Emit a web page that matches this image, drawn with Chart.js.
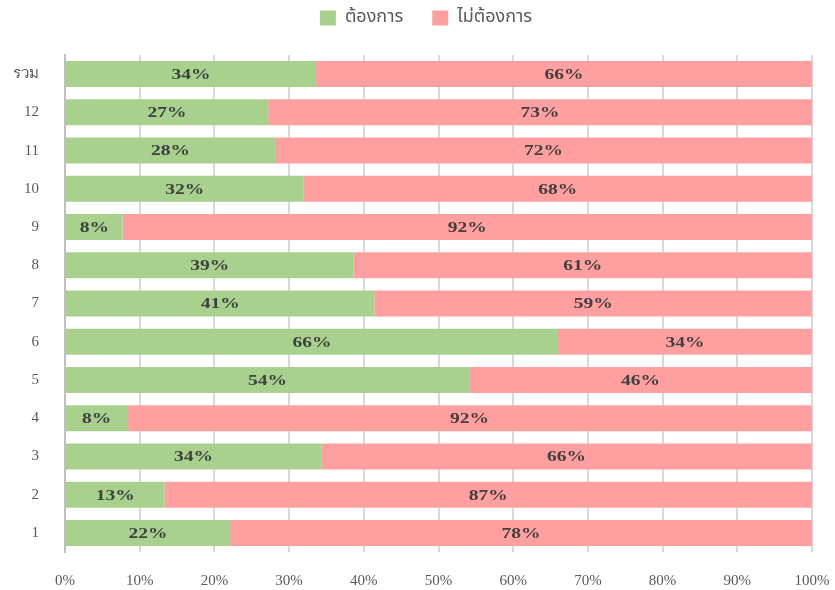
<!DOCTYPE html>
<html>
<head>
<meta charset="utf-8">
<script src="https://cdn.jsdelivr.net/npm/chart.js@4"></script>
<style>
  html, body { margin: 0; padding: 0; background: #fff; }
  canvas { display: block; }
</style>
</head>
<body>
<canvas id="chart" width="835" height="590"></canvas>
<script>
const categories = ['รวม', '12', '11', '10', '9', '8', '7', '6', '5', '4', '3', '2', '1'];
const wantValues = [33.6, 27.2, 28.1, 31.9, 7.7, 38.6, 41.4, 66.0, 54.1, 8.3, 34.3, 13.3, 22.1];
const notWantValues = [66.4, 72.8, 71.9, 68.1, 92.3, 61.4, 58.6, 34.0, 45.9, 91.7, 65.7, 86.7, 77.9];
const seriesNames = ['ต้องการ', 'ไม่ต้องการ'];

// วาดตัวเลขเปอร์เซ็นต์ตรงกลางแต่ละแท่ง (ตัวหนังสือกว้างแบบในภาพต้นฉบับ)
const barLabels = {
    id: 'barLabels',
    afterDatasetsDraw(chart) {
        const ctx = chart.ctx;
        chart.data.datasets.forEach((ds, i) => {
            chart.getDatasetMeta(i).data.forEach((bar, j) => {
                const cx = (bar.x + bar.base) / 2;
                ctx.save();
                ctx.translate(cx, bar.y + 1);
                ctx.scale(1.3, 1);
                ctx.font = 'bold 15px "Liberation Serif", serif';
                ctx.fillStyle = '#404040';
                ctx.textAlign = 'center';
                ctx.textBaseline = 'middle';
                ctx.fillText(Math.round(ds.data[j]) + '%', 0, 0);
                ctx.restore();
            });
        });
    }
};

// เว้นที่ว่างใต้ legend และเลื่อน legend ไปทางขวาเล็กน้อย
const legendTweak = {
    id: 'legendTweak',
    beforeInit(chart) {
        const fit = chart.legend.fit;
        chart.legend.fit = function () {
            fit.bind(chart.legend)();
            this.height += 18;
        };
    },
    afterLayout(chart) {
        chart.legend.left += 20;
        chart.legend.right += 20;
    }
};

new Chart(document.getElementById('chart').getContext('2d'), {
    type: 'bar',
    data: {
        labels: categories,
        datasets: [{
            label: seriesNames[0],
            data: wantValues,
            backgroundColor: '#a9d18e'
        }, {
            label: seriesNames[1],
            data: notWantValues,
            backgroundColor: '#ff9f9f'
        }]
    },
    options: {
        indexAxis: 'y',
        responsive: false,
        animation: false,
        layout: { padding: { top: -20, right: 23, left: 0, bottom: 0 } },
        datasets: {
            bar: { categoryPercentage: 1, barPercentage: 0.68 }
        },
        plugins: {
            legend: {
                position: 'top',
                labels: {
                    boxWidth: 16,
                    boxHeight: 15,
                    padding: 29,
                    color: '#595959',
                    font: { size: 18, family: '"Noto Sans Thai", "Liberation Serif", serif' }
                }
            },
            tooltip: { enabled: false }
        },
        scales: {
            x: {
                stacked: true,
                min: 0,
                max: 100,
                afterFit(scale) {
                    scale.height = 38;
                    scale.paddingRight = 0;
                },
                ticks: {
                    stepSize: 10,
                    padding: 20,
                    color: '#595959',
                    font: { size: 15, family: '"Liberation Serif", serif' },
                    callback: v => v + '%'
                },
                grid: { color: '#d9d9d9', lineWidth: 2, drawTicks: false },
                border: { display: false }
            },
            y: {
                stacked: true,
                afterFit(scale) { scale.width = 65; },
                ticks: {
                    padding: 26,
                    color: '#595959',
                    font: { size: 15, family: '"Liberation Serif", serif' }
                },
                grid: { display: false, drawTicks: false },
                border: { color: '#bfbfbf', width: 2 }
            }
        }
    },
    plugins: [barLabels, legendTweak]
});
</script>
</body>
</html>
